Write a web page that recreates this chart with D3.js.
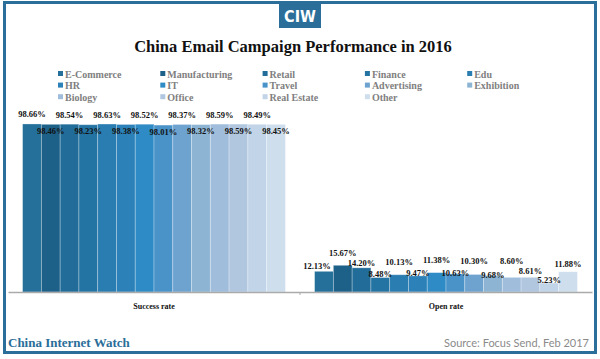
<!DOCTYPE html>
<html>
<head>
<meta charset="utf-8">
<script src="https://cdn.jsdelivr.net/npm/d3@7"></script>
<style>
  html, body { margin: 0; padding: 0; background: #fff; }
  svg { display: block; }
</style>
</head>
<body>
<svg id="chart" width="600" height="359"></svg>
<script>
// ---- data ----
const categories = ["E-Commerce", "Manufacturing", "Retail", "Finance", "Edu",
  "HR", "IT", "Travel", "Advertising", "Exhibition",
  "Biology", "Office", "Real Estate", "Other"];
const groups = ["Success rate", "Open rate"];
const successRate = [98.66, 98.46, 98.54, 98.23, 98.63, 98.38, 98.52, 98.01, 98.37, 98.32, 98.59, 98.59, 98.49, 98.45];
const openRate = [12.13, 15.67, 14.20, 8.48, 10.13, 9.47, 11.38, 10.63, 10.30, 9.68, 8.60, 8.61, 5.23, 11.88];
const colors = ["#24709a", "#1d6088", "#216c98", "#2474a3", "#2a7db0",
  "#2c81b8", "#2e8bc5", "#4a93c9", "#6fa3cf", "#8db5d3",
  "#a0bedb", "#b1c7e0", "#c2d5e8", "#cfdeec"];

const seriesByGroup = [successRate, openRate];

const svg = d3.select("#chart");
const serif = "'Liberation Serif', 'Times New Roman', serif";

// frame
svg.append("rect").attr("x", 4.5).attr("y", 2.5).attr("width", 591).attr("height", 350)
  .attr("fill", "none").attr("stroke", "#2a6e99").attr("stroke-width", 3);

// CIW logo box
svg.append("rect").attr("x", 279).attr("y", 2).attr("width", 42).attr("height", 26).attr("fill", "#2a6e99");
svg.append("text").attr("x", 300).attr("y", 21.5).attr("text-anchor", "middle")
  .attr("font-family", "'Liberation Sans Narrow', 'DejaVu Sans Condensed', sans-serif")
  .attr("font-weight", "bold").attr("font-size", 16).attr("fill", "#fff")
  .attr("font-stretch", "condensed").text("CIW");

// title
svg.append("text").attr("x", 293).attr("y", 52).attr("text-anchor", "middle")
  .attr("font-family", serif).attr("font-weight", "bold").attr("font-size", 16.5)
  .attr("fill", "#111").text("China Email Campaign Performance in 2016");

// legend
const legend = svg.append("g");
categories.forEach((c, i) => {
  const col = i % 5, row = Math.floor(i / 5);
  const lx = 58 + col * 102.3, ly = 77.5 + row * 11.6;
  legend.append("rect").attr("x", lx).attr("y", ly - 6.5).attr("width", 5).attr("height", 5).attr("fill", colors[i]);
  legend.append("text").attr("x", lx + 7).attr("y", ly)
    .attr("font-family", serif).attr("font-weight", "bold").attr("font-size", 10)
    .attr("fill", "#808080").text(c);
});

// scales
const baseY = 292;
const x0 = d3.scaleBand().domain(groups).range([8, 592]).paddingInner(0.1).paddingOuter(0.05);
const x1 = d3.scaleBand().domain(categories).range([0, x0.bandwidth()]).padding(0);
const y = d3.scaleLinear().domain([0, 100]).range([baseY, 121.7]);

// bars
groups.forEach((g, gi) => {
  const vals = seriesByGroup[gi];
  const gg = svg.append("g").attr("transform", `translate(${x0(g)},0)`);
  gg.selectAll("rect").data(vals).join("rect")
    .attr("x", (d, i) => x1(categories[i]))
    .attr("y", d => y(d))
    .attr("width", x1.bandwidth())
    .attr("height", d => baseY - y(d))
    .attr("fill", (d, i) => colors[i])
    .attr("stroke", "rgba(255,255,255,0.35)").attr("stroke-width", 0.8);
  const labels = gg.selectAll("text").data(vals).join("text")
    .attr("x", (d, i) => x1(categories[i]) + x1.bandwidth() / 2)
    .attr("text-anchor", "middle")
    .attr("font-family", serif).attr("font-weight", "bold").attr("font-size", 8.5)
    .attr("fill", "#111").text(d => d.toFixed(2) + "%");

  // label placement (centre y), then resolve collisions between neighbours
  const nodes = vals.map((d, i) => {
    const top = y(d);
    let cy;
    if (gi === 0) cy = i % 2 === 0 ? top - 9.5 : top + 6.5;
    else cy = top - 7 + (i % 2 === 0 ? 0 : -0.5);
    return { cx: x1(categories[i]) + x1.bandwidth() / 2, cy, w: 0 };
  });
  labels.each(function (d, i) { nodes[i].w = this.getComputedTextLength(); });
  if (gi === 1) {
    const minGap = 9.5;
    for (let it = 0; it < 80; it++) {
      for (let i = 0; i < nodes.length - 1; i++) {
        const a = nodes[i], b = nodes[i + 1];
        const hOver = (a.w + b.w) / 2 - (b.cx - a.cx);
        if (hOver <= 0) continue;
        const dy = b.cy - a.cy;
        if (Math.abs(dy) < minGap) {
          const push = (minGap - Math.abs(dy)) / 2;
          const s = dy >= 0 ? 1 : -1;
          a.cy -= s * push; b.cy += s * push;
        }
      }
    }
    // shift the first label slightly left like the original
    nodes[0].cx -= 7;
  }
  labels.attr("x", (d, i) => nodes[i].cx).attr("y", (d, i) => nodes[i].cy + 3);
});

// x axis
const axis = svg.append("g").attr("transform", `translate(0,${baseY})`)
  .call(d3.axisBottom(x0).tickSize(0).tickPadding(11));
axis.select(".domain").attr("stroke", "#aaa").attr("stroke-width", 1.5);
axis.selectAll("text").attr("font-family", serif).attr("font-weight", "bold")
  .attr("font-size", 8).attr("fill", "#111");
svg.append("line").attr("x1", 300).attr("x2", 300).attr("y1", baseY).attr("y2", baseY + 3)
  .attr("stroke", "#aaa").attr("stroke-width", 1);

// footer
svg.append("text").attr("x", 8).attr("y", 347)
  .attr("font-family", serif).attr("font-weight", "bold").attr("font-size", 13)
  .attr("fill", "#2a6e99").text("China Internet Watch");
svg.append("text").attr("x", 589).attr("y", 347).attr("text-anchor", "end")
  .attr("font-family", "Lato, 'DejaVu Sans', sans-serif").attr("font-size", 11)
  .attr("fill", "#8a8a8a").text("Source: Focus Send, Feb 2017");
</script>
</body>
</html>
